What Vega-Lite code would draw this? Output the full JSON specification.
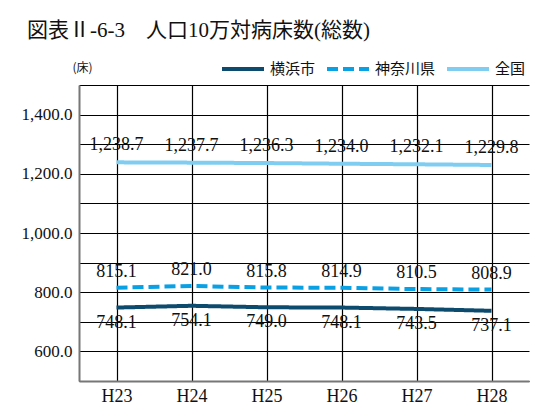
{
  "$schema": "https://vega.github.io/schema/vega-lite/v6.json",
  "width": 450,
  "height": 296,
  "autosize": {"type": "none"},
  "padding": {"left": 79, "top": 85, "right": 7, "bottom": 35},
  "background": "white",
  "title": {
    "text": "図表Ⅱ-6-3　人口10万対病床数(総数)",
    "anchor": "start",
    "frame": "group",
    "dx": -52,
    "dy": -1,
    "fontSize": 21,
    "fontWeight": "normal",
    "color": "#111111",
    "font": "Liberation Serif, Noto Sans CJK JP"
  },
  "data": {
    "values": [
      {"year": "H23", "series": "横浜市", "value": 748.1},
      {"year": "H24", "series": "横浜市", "value": 754.1},
      {"year": "H25", "series": "横浜市", "value": 749.0},
      {"year": "H26", "series": "横浜市", "value": 748.1},
      {"year": "H27", "series": "横浜市", "value": 743.5},
      {"year": "H28", "series": "横浜市", "value": 737.1},
      {"year": "H23", "series": "神奈川県", "value": 815.1},
      {"year": "H24", "series": "神奈川県", "value": 821.0},
      {"year": "H25", "series": "神奈川県", "value": 815.8},
      {"year": "H26", "series": "神奈川県", "value": 814.9},
      {"year": "H27", "series": "神奈川県", "value": 810.5},
      {"year": "H28", "series": "神奈川県", "value": 808.9},
      {"year": "H23", "series": "全国", "value": 1238.7},
      {"year": "H24", "series": "全国", "value": 1237.7},
      {"year": "H25", "series": "全国", "value": 1236.3},
      {"year": "H26", "series": "全国", "value": 1234.0},
      {"year": "H27", "series": "全国", "value": 1232.1},
      {"year": "H28", "series": "全国", "value": 1229.8}
    ]
  },
  "encoding": {
    "x": {
      "field": "year",
      "type": "ordinal",
      "scale": {"type": "point", "padding": 0.5},
      "axis": {
        "title": null,
        "labelAngle": 0,
        "labelFontSize": 18,
        "labelColor": "#111111",
        "labelPadding": 6,
        "ticks": false,
        "grid": true,
        "gridColor": "#000000",
        "gridOpacity": 1,
        "gridWidth": 1.2,
        "domainColor": "#777777",
        "domainWidth": 2
      }
    },
    "y": {
      "field": "value",
      "type": "quantitative",
      "scale": {"domain": [500, 1500], "nice": false, "zero": false},
      "axis": {
        "values": [500, 600, 700, 800, 900, 1000, 1100, 1200, 1300, 1400, 1500],
        "labelExpr": "datum.value % 200 == 0 ? format(datum.value, ',.1f') : ''",
        "labelFontSize": 17,
        "labelColor": "#111111",
        "labelPadding": 7,
        "ticks": false,
        "grid": true,
        "gridColor": "#000000",
        "gridOpacity": 1,
        "gridWidth": 1.2,
        "domainColor": "#777777",
        "domainWidth": 2,
        "title": "(床)",
        "titleAngle": 0,
        "titleX": -7,
        "titleY": -18,
        "titleAlign": "left",
        "titleBaseline": "middle",
        "titleFontSize": 12,
        "titleFontWeight": "normal",
        "titleColor": "#111111",
        "titleFont": "Noto Sans CJK JP"
      }
    }
  },
  "layer": [
    {
      "mark": {"type": "line", "strokeWidth": 4, "strokeCap": "butt"},
      "encoding": {
        "color": {
          "field": "series",
          "type": "nominal",
          "scale": {"domain": ["横浜市", "神奈川県", "全国"], "range": ["#0c4a6e", "#0aa0e4", "#7fcdf1"]},
          "legend": {"orient": "none", "legendX": 141, "legendY": -39, "direction": "horizontal", "title": null}
        },
        "strokeDash": {
          "field": "series",
          "type": "nominal",
          "scale": {"domain": ["横浜市", "神奈川県", "全国"], "range": [[1, 0], [11, 5], [1, 0]]},
          "legend": {"orient": "none", "legendX": 141, "legendY": -39, "direction": "horizontal", "title": null}
        }
      }
    },
    {
      "transform": [{"filter": "datum.series == '全国'"}],
      "mark": {"type": "text", "fontSize": 18, "color": "#111111", "baseline": "middle", "dy": -17},
      "encoding": {"text": {"field": "value", "type": "quantitative", "format": ",.1f"}}
    },
    {
      "transform": [{"filter": "datum.series == '神奈川県'"}],
      "mark": {"type": "text", "fontSize": 18, "color": "#111111", "baseline": "middle", "dy": -16},
      "encoding": {"text": {"field": "value", "type": "quantitative", "format": ",.1f"}}
    },
    {
      "transform": [{"filter": "datum.series == '横浜市'"}],
      "mark": {"type": "text", "fontSize": 18, "color": "#111111", "baseline": "middle", "dy": 15},
      "encoding": {"text": {"field": "value", "type": "quantitative", "format": ",.1f"}}
    }
  ],
  "config": {
    "font": "Liberation Serif, Noto Sans CJK JP",
    "view": {"stroke": null},
    "legend": {
      "symbolType": "stroke",
      "symbolSize": 1764,
      "symbolStrokeWidth": 4,
      "labelFontSize": 15,
      "labelFont": "Noto Sans CJK JP",
      "labelColor": "#111111",
      "labelOffset": 4,
      "columnPadding": 3,
      "gridAlign": "none"
    }
  }
}
